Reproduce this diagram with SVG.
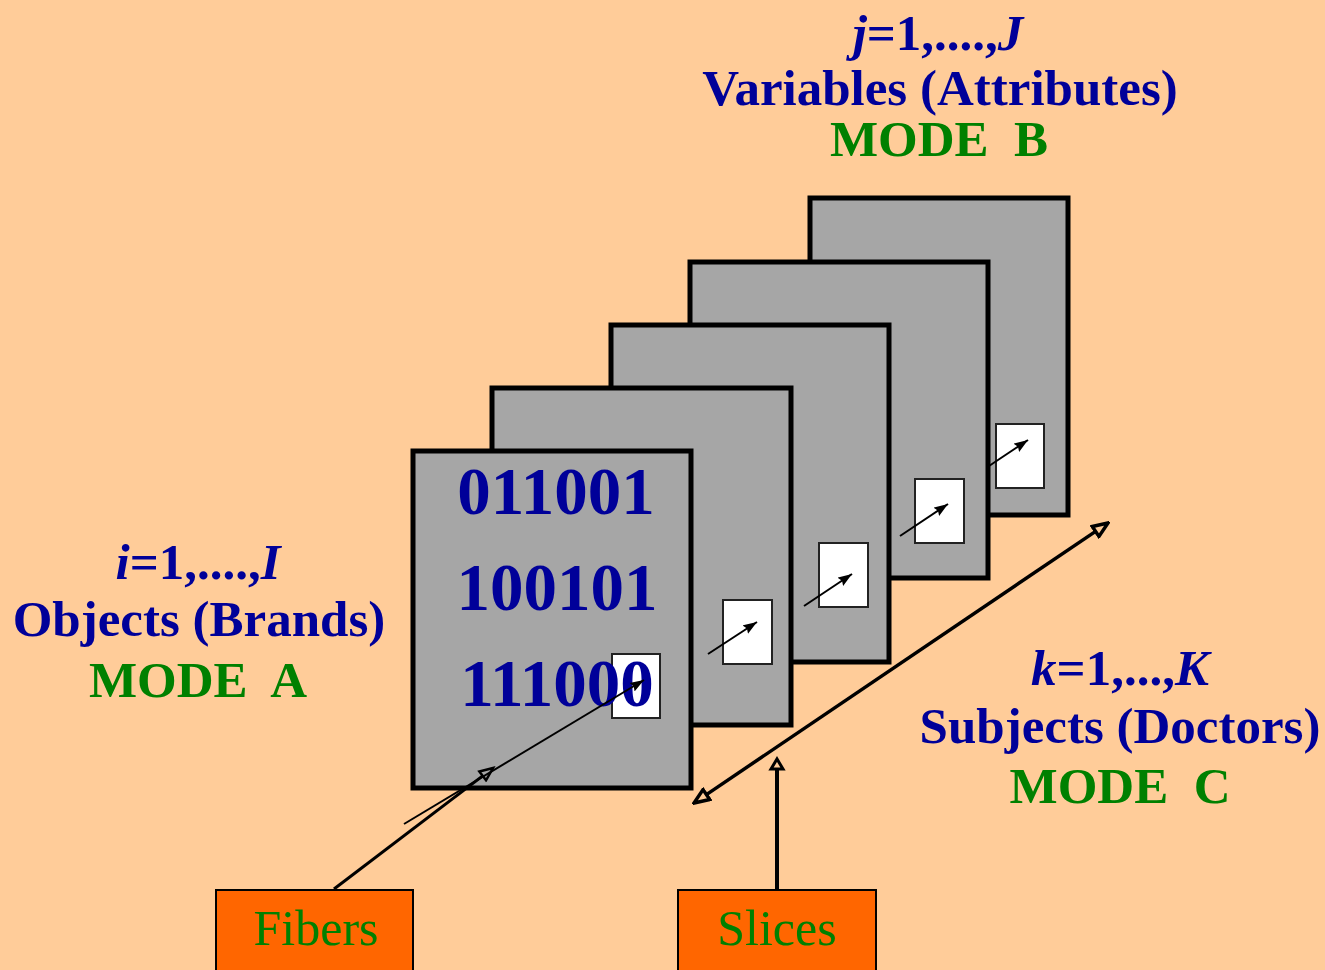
<svg xmlns="http://www.w3.org/2000/svg" width="1325" height="970" viewBox="0 0 1325 970">
  <style>
    .slice { fill: #A6A6A6; stroke: #000; stroke-width: 5; }
    .cell { fill: #FFFFFF; stroke: #222; stroke-width: 2; }
    .fib { fill: none; stroke: #000; stroke-width: 2; }
    .conn { fill: none; stroke: #000; }
    .txt { font-family: "Liberation Serif", "Times New Roman", serif; font-weight: bold; font-size: 51px; text-anchor: middle; fill: #000099; }
    .mode { fill: #008000; white-space: pre; }
    .num { font-size: 67px; }
    .it { font-style: italic; }
    .box { fill: #FF6600; stroke: #000; stroke-width: 2; }
    .boxtxt { font-family: "Liberation Serif", "Times New Roman", serif; font-size: 50px; text-anchor: middle; fill: #008000; }
  </style>
  <defs>
    <marker id="headFilled" viewBox="0 0 15 11" markerWidth="15" markerHeight="11" refX="14" refY="5.5" orient="auto" markerUnits="userSpaceOnUse">
      <path d="M0,0.5 L14,5.5 L0,10.5 L2,5.5 z" fill="#000"/>
    </marker>
    <marker id="headOpen" viewBox="-2 -2 18 15" markerWidth="18" markerHeight="15" refX="0" refY="5.5" orient="auto" markerUnits="userSpaceOnUse">
      <path d="M0,0 L13,5.5 L0,11 z" fill="none" stroke="#000" stroke-width="2.5" stroke-linejoin="miter"/>
    </marker>
    <marker id="headWide" viewBox="-2 -2 19 16" markerWidth="19" markerHeight="16" refX="0" refY="6" orient="auto-start-reverse" markerUnits="userSpaceOnUse">
      <path d="M0,0 L15,6 L0,12 z" fill="#FFCC99" stroke="#000" stroke-width="3.5"/>
    </marker>
    <marker id="headBold" viewBox="-3 -3 18 18" markerWidth="18" markerHeight="18" refX="0" refY="6" orient="auto" markerUnits="userSpaceOnUse">
      <path d="M0,0 L10,6 L0,12 z" fill="#FFCC99" stroke="#000" stroke-width="3"/>
    </marker>
  </defs>

  <!-- background -->
  <rect x="0" y="0" width="1325" height="970" fill="#FFCC99"/>

  <!-- mode labels -->
  <g id="label-mode-b">
    <text class="txt" x="938" y="50"><tspan class="it">j</tspan>=1,....,<tspan class="it">J</tspan></text>
    <text class="txt" x="940" y="105">Variables (Attributes)</text>
    <text class="txt mode" x="939" y="156">MODE  B</text>
  </g>
  <g id="label-mode-a">
    <text class="txt" x="198" y="579"><tspan class="it">i</tspan>=1,....,<tspan class="it">I</tspan></text>
    <text class="txt" x="199" y="636">Objects (Brands)</text>
    <text class="txt mode" x="198" y="697">MODE  A</text>
  </g>
  <g id="label-mode-c">
    <text class="txt" x="1120" y="685"><tspan class="it">k</tspan>=1,...,<tspan class="it">K</tspan></text>
    <text class="txt" x="1120" y="743">Subjects (Doctors)</text>
    <text class="txt mode" x="1120" y="803">MODE  C</text>
  </g>

  <!-- slices, back to front -->
  <g id="slice-5">
    <rect class="slice" x="810" y="198" width="258" height="317"/>
    <rect class="cell" x="996" y="424" width="48" height="64"/>
    <line class="fib" x1="980" y1="472" x2="1028" y2="440" marker-end="url(#headFilled)"/>
  </g>
  <g id="slice-4">
    <rect class="slice" x="690" y="262" width="298" height="316"/>
    <rect class="cell" x="915" y="479" width="49" height="64"/>
    <line class="fib" x1="900" y1="536" x2="948" y2="504" marker-end="url(#headFilled)"/>
  </g>
  <g id="slice-3">
    <rect class="slice" x="611" y="325" width="278" height="337"/>
    <rect class="cell" x="819" y="543" width="49" height="64"/>
    <line class="fib" x1="804" y1="606" x2="852" y2="574" marker-end="url(#headFilled)"/>
  </g>
  <g id="slice-2">
    <rect class="slice" x="492" y="388" width="299" height="337"/>
    <rect class="cell" x="723" y="600" width="49" height="64"/>
    <line class="fib" x1="708" y1="654" x2="757" y2="622" marker-end="url(#headFilled)"/>
  </g>
  <g id="slice-1">
    <rect class="slice" x="413" y="451" width="278" height="337"/>
    <rect class="cell" x="612" y="654" width="48" height="64"/>
    <text class="txt num" x="556" y="514">011001</text>
    <text class="txt num" x="557" y="610">100101</text>
    <text class="txt num" x="557" y="706">111000</text>
    <line class="fib" x1="404" y1="824" x2="644" y2="680" marker-end="url(#headFilled)"/>
  </g>

  <!-- callout boxes -->
  <g id="fibers">
    <rect class="box" x="216" y="890" width="197" height="90"/>
    <text class="boxtxt" x="316" y="945">Fibers</text>
  </g>
  <g id="slices">
    <rect class="box" x="678" y="890" width="198" height="90"/>
    <text class="boxtxt" x="777" y="945">Slices</text>
  </g>

  <!-- connectors -->
  <g id="connectors">
    <line class="conn" stroke-width="3" x1="334" y1="889" x2="482.7" y2="775.9" marker-end="url(#headOpen)"/>
    <line class="conn" stroke-width="4" x1="777" y1="889" x2="777" y2="769" marker-end="url(#headBold)"/>
    <line class="conn" stroke-width="3.5" x1="706.4" y1="794.6" x2="1095.6" y2="531.4" marker-start="url(#headWide)" marker-end="url(#headWide)"/>
  </g>
</svg>
